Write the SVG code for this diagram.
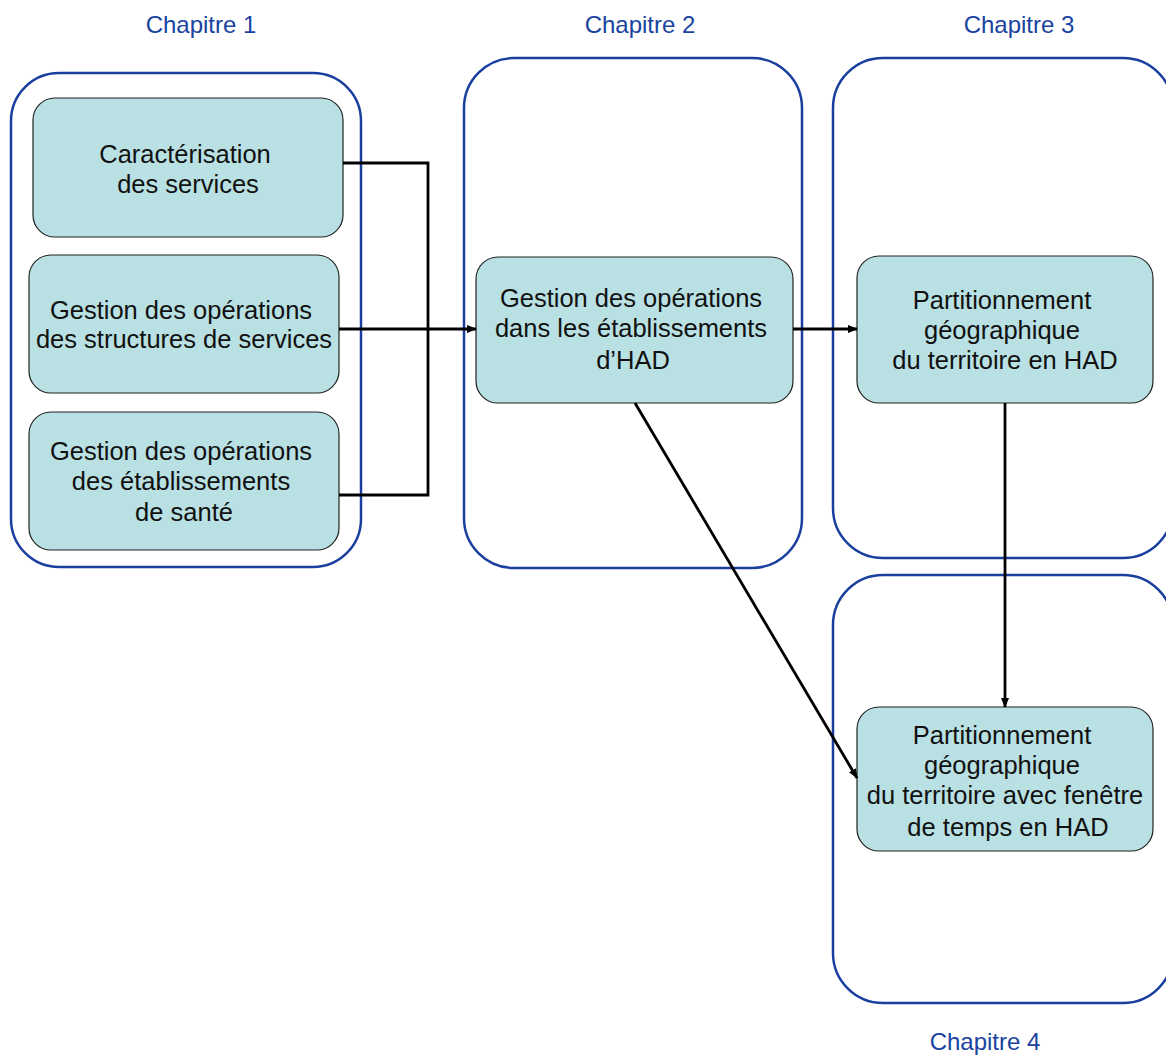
<svg xmlns="http://www.w3.org/2000/svg" width="1166" height="1057" viewBox="0 0 1166 1057">
<style>
.chap{fill:none;stroke:#1a3f9f;stroke-width:2.5}
.node{fill:#b9e0e3;stroke:#222;stroke-width:1.2}
.t{font-family:"Liberation Sans",Arial,sans-serif;font-size:25.5px;fill:#111;text-anchor:middle}
.lab{font-family:"Liberation Sans",Arial,sans-serif;font-size:24px;fill:#1a44a0;text-anchor:middle}
.c{fill:none;stroke:#000;stroke-width:2.8}
</style>
<defs>
<marker id="ah" markerWidth="10" markerHeight="8" refX="9" refY="4" orient="auto" markerUnits="userSpaceOnUse">
<path d="M0,0 L10,4 L0,8 Z" fill="#000"/>
</marker>
</defs>
<rect width="1166" height="1057" fill="#fff"/>
<g id="chapitre1">
<rect class="chap" x="11" y="73" width="350" height="494" rx="48"/>
<text class="lab" x="201" y="33">Chapitre 1</text>
</g>
<g id="chapitre2">
<rect class="chap" x="464" y="58" width="338" height="510" rx="50"/>
<text class="lab" x="640" y="33">Chapitre 2</text>
</g>
<g id="chapitre3">
<rect class="chap" x="833" y="58" width="340" height="500" rx="50"/>
<text class="lab" x="1019" y="33">Chapitre 3</text>
</g>
<g id="chapitre4">
<rect class="chap" x="833" y="575" width="340" height="428" rx="50"/>
<text class="lab" x="985" y="1050">Chapitre 4</text>
</g>
<g id="n1">
<rect class="node" x="33" y="98" width="310" height="139" rx="22"/>
<text class="t"><tspan x="185" y="163">Caractérisation</tspan><tspan x="188" y="193">des services</tspan></text>
</g>
<g id="n2">
<rect class="node" x="29" y="255" width="310" height="138" rx="22"/>
<text class="t"><tspan x="181" y="319">Gestion des opérations</tspan><tspan x="184" y="348">des structures de services</tspan></text>
</g>
<g id="n3">
<rect class="node" x="29" y="412" width="310" height="138" rx="22"/>
<text class="t"><tspan x="181" y="460">Gestion des opérations</tspan><tspan x="181" y="490">des établissements</tspan><tspan x="184" y="521">de santé</tspan></text>
</g>
<g id="n4">
<rect class="node" x="476" y="257" width="317" height="146" rx="22"/>
<text class="t"><tspan x="631" y="307">Gestion des opérations</tspan><tspan x="631" y="337">dans les établissements</tspan><tspan x="633" y="369">d’HAD</tspan></text>
</g>
<g id="n5">
<rect class="node" x="857" y="256" width="296" height="147" rx="22"/>
<text class="t"><tspan x="1002" y="309">Partitionnement</tspan><tspan x="1002" y="339">géographique</tspan><tspan x="1005" y="369">du territoire en HAD</tspan></text>
</g>
<g id="n6">
<rect class="node" x="857" y="707" width="296" height="144" rx="22"/>
<text class="t"><tspan x="1002" y="744">Partitionnement</tspan><tspan x="1002" y="774">géographique</tspan><tspan x="1005" y="804">du territoire avec fenêtre</tspan><tspan x="1008" y="836">de temps en HAD</tspan></text>
</g>
<g id="connectors">
<polyline class="c" points="343,163 428,163 428,495 339,495"/>
<line class="c" x1="339" y1="329" x2="476" y2="329" marker-end="url(#ah)"/>
<line class="c" x1="793" y1="329" x2="857" y2="329" marker-end="url(#ah)"/>
<line class="c" x1="1005" y1="403" x2="1005" y2="707" marker-end="url(#ah)"/>
<line class="c" x1="635" y1="403" x2="857" y2="778" marker-end="url(#ah)"/>
</g>
</svg>
